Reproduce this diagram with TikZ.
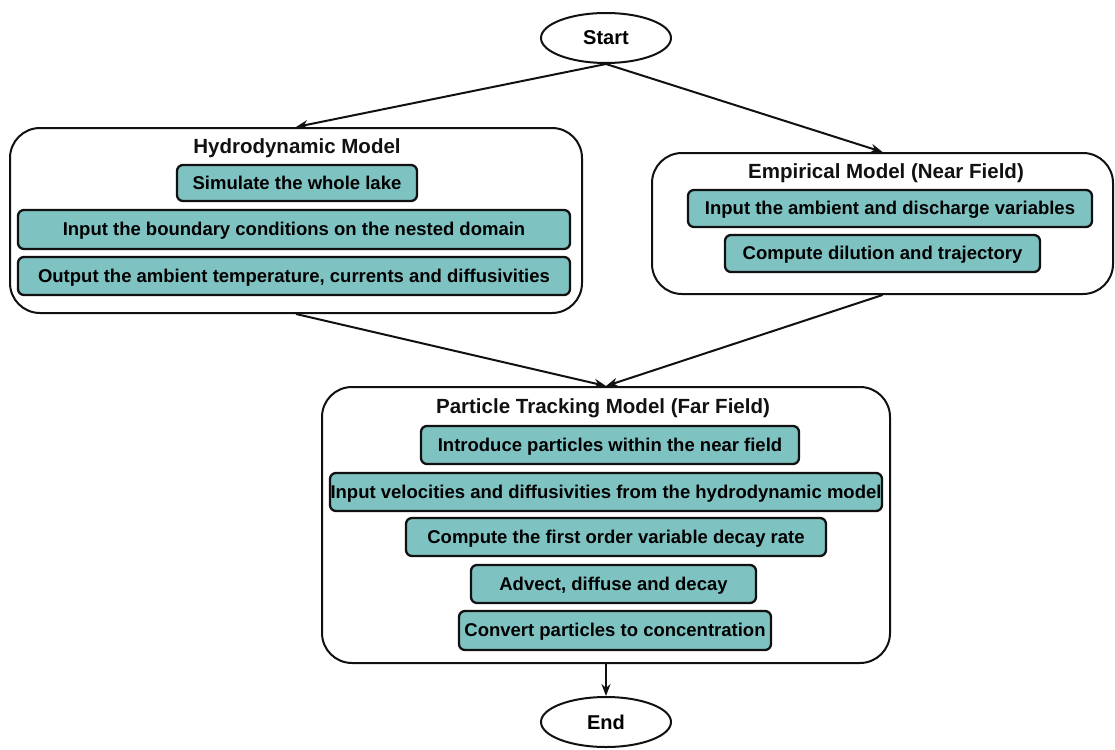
\documentclass[tikz,border=0pt]{standalone}
\usepackage{fontspec}
\setmainfont{Liberation Sans}
\usepackage{xcolor}
\usepackage{tikz}
\usetikzlibrary{shapes.geometric,arrows.meta}
\definecolor{boxfill}{HTML}{7FC2C2}
\definecolor{ink}{HTML}{111111}
\tikzset{
  term/.style={draw=ink, ellipse, line width=2pt, fill=white, minimum width=130, minimum height=50, font=\fontsize{20}{22}\selectfont\bfseries},
  group/.style={draw=ink, line width=2pt, rounded corners=30pt, fill=white},
  stepbox/.style={draw=ink, fill=boxfill, line width=2.3pt, rounded corners=6pt, minimum height=38, font=\fontsize{18.5}{20}\selectfont\bfseries, inner sep=0pt, text height=14pt, text depth=2pt},
  title/.style={font=\fontsize{20.5}{22}\selectfont\bfseries, text=ink},
  arr/.style={draw=ink, line width=2pt, -{Stealth[length=12pt,width=9pt,inset=4pt]}},
}
\begin{document}
\begin{tikzpicture}[x=1pt,y=-1pt]
\useasboundingbox (0,0) rectangle (1115,749);

% the three model groups
\node[group, minimum width=572, minimum height=185] (hydro) at (296,220.5) {};
\node[group, minimum width=461, minimum height=141] (emp) at (882.5,223.5) {};
\node[group, minimum width=568, minimum height=276] (ptm) at (606,525) {};

\node[title] (hydrot) at (297,148) {Hydrodynamic Model};
\node[title] (empt) at (886,173) {Empirical Model (Near Field)};
\node[title] (ptmt) at (603,408) {Particle Tracking Model (Far Field)};

% hydrodynamic steps
\node[stepbox, minimum width=240, minimum height=36] (sim) at (297,183) {Simulate the whole lake};
\node[stepbox, minimum width=552, minimum height=39] (bnd) at (294,229.5) {Input the boundary conditions on the nested domain};
\node[stepbox, minimum width=552] (out) at (294,276) {Output the ambient temperature, currents and diffusivities};

% empirical steps
\node[stepbox, minimum width=404, minimum height=37] (amb) at (890,208.5) {Input the ambient and discharge variables};
\node[stepbox, minimum width=315, minimum height=37] (dil) at (882.5,253.5) {Compute dilution and trajectory};

% particle tracking steps
\node[stepbox, minimum width=378] (intro) at (610,445) {Introduce particles within the near field};
\node[stepbox, minimum width=552] (vel) at (606,492) {Input velocities and diffusivities from the hydrodynamic model};
\node[stepbox, minimum width=420] (decay) at (616,537) {Compute the first order variable decay rate};
\node[stepbox, minimum width=285] (adv) at (613.5,584) {Advect, diffuse and decay};
\node[stepbox, minimum width=312, minimum height=39] (conv) at (615,630.5) {Convert particles to concentration};

\node[term] (start) at (606,38) {Start};
\node[term] (end) at (606,722) {End};

\draw[arr] (start.south) -- (hydro.north);
\draw[arr] (start.south) -- (emp.north);
\draw[arr] (hydro.south) -- (ptm.north);
\draw[arr] (emp.south) -- (ptm.north);
\draw[arr] (ptm.south) -- (end.north);
\end{tikzpicture}
\end{document}
